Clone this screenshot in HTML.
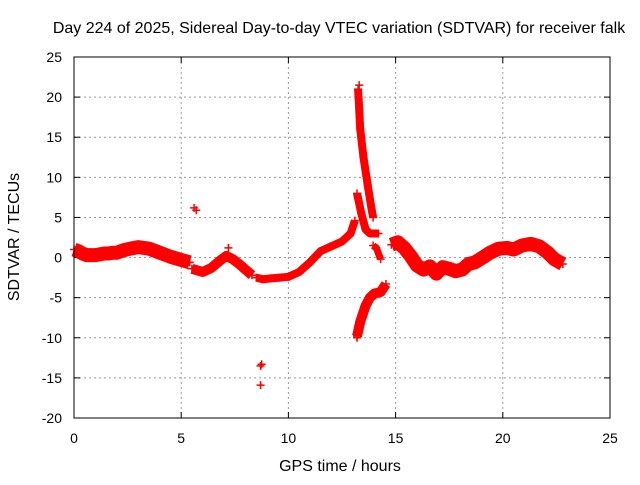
<!DOCTYPE html>
<html><head><meta charset="utf-8"><style>
body{margin:0;background:#fff}
svg{font-family:"Liberation Sans",sans-serif;font-size:14px}
</style></head><body>
<svg id="c" width="640" height="480">
<text x="339" y="33" text-anchor="middle" style="font-size:16px">Day 224 of 2025, Sidereal Day-to-day VTEC variation (SDTVAR) for receiver falk</text>
<text x="340" y="471" text-anchor="middle" style="font-size:16px">GPS time / hours</text>
<text transform="translate(19,237) rotate(-90)" text-anchor="middle" style="font-size:16px">SDTVAR / TECUs</text>
<g id="grid"></g><g id="marks"></g>
<rect x="74" y="57" width="536" height="361" fill="none" stroke="#000"/>
</svg>
<script>
const xTicks=[0,5,10,15,20,25];
const yTicks=[-20,-15,-10,-5,0,5,10,15,20,25];
// segments of the measured series: [hour, TECU]
const segMain=[[0,1],[0.2,0.8],[0.4,0.5],[0.6,0.3],[0.8,0.3],[1,0.3],[1.2,0.4],[1.4,0.5],[1.6,0.5],[1.8,0.6],[2.0,0.6],[2.3,0.9],[2.6,1.1],[3.0,1.3],[3.5,1.1],[4,0.6],[4.5,0.1],[5,-0.3],[5.4,-0.6]];
const segB=[[5.5,-1.4],[6,-1.8],[6.4,-1.3],[6.8,-0.4],[7.1,0.2],[7.4,-0.2],[7.7,-0.8],[8,-1.5],[8.3,-2.2]];
const segC=[[8.5,-2.5],[8.8,-2.7],[9.2,-2.6],[9.6,-2.5],[10,-2.4],[10.5,-1.8],[11,-0.6],[11.5,0.8],[12,1.4],[12.5,2],[12.9,3],[13.1,4.6]];
const segSpike=[[13.25,21],[13.35,16],[13.5,12.5],[13.7,9],[13.85,6.5],[13.95,5]];
const segD=[[13.2,8],[13.4,5.5],[13.6,3.5],[13.8,3],[14.1,3],[14.2,3]];
const segE=[[13.95,1.5],[14.1,1.2],[14.3,-0.2]];
const segLow=[[13.2,-9.8],[13.35,-8],[13.6,-6],[13.8,-5],[14,-4.5],[14.3,-4.3],[14.55,-3.3]];
const segF=[[14.8,1.6],[15.1,1.9],[15.4,1.2],[15.7,0.2],[16,-1],[16.3,-1.5],[16.6,-1.1],[16.9,-2],[17.2,-1.2],[17.5,-1.4],[17.8,-1.7],[18.1,-1.5],[18.4,-0.8],[18.7,-0.6],[19,-0.1],[19.4,0.6],[19.8,1.1],[20.2,1.2],[20.5,1.0],[20.9,1.5],[21.3,1.7],[21.7,1.4],[22.1,0.6],[22.4,-0.2],[22.8,-0.8]];
const isolated=[[5.6,6.2],[5.7,5.9],[7.2,1.2],[8.7,-13.5],[8.75,-13.3],[8.7,-15.9],[13.3,21.5],[13.2,-10]];
const segs=[segMain,segB,segC,segSpike,segD,segE,segLow,segF];
const widths=[14,10,8,8,8,7,10,14];
const X=v=>74+v*536/25, Y=v=>418-(v+20)*361/45;
const ns="http://www.w3.org/2000/svg";
const g=document.getElementById('grid'), m=document.getElementById('marks');
function mk(t,a,p){const e=document.createElementNS(ns,t);for(const k in a)e.setAttribute(k,a[k]);p.appendChild(e);return e;}
xTicks.forEach(t=>{const x=X(t);
 const l=mk('line',{x1:x,x2:x,y1:57,y2:418,stroke:'#999','stroke-dasharray':'2,3'},g);
 
 
 mk('line',{x1:x,x2:x,y1:418,y2:412,stroke:'#000'},g);mk('line',{x1:x,x2:x,y1:57,y2:63,stroke:'#000'},g);
 const tx=mk('text',{x:x,y:443,'text-anchor':'middle'},g);tx.textContent=t;
 
 });
yTicks.forEach(t=>{const y=Y(t);
 const l=mk('line',{x1:74,x2:610,y1:y,y2:y,stroke:'#999','stroke-dasharray':'2,3'},g);
 
 
 mk('line',{x1:74,x2:80,y1:y,y2:y,stroke:'#000'},g);mk('line',{x1:610,x2:604,y1:y,y2:y,stroke:'#000'},g);
 const tx=mk('text',{x:62,y:y+5,'text-anchor':'end'},g);tx.textContent=t;
 
 });
segs.forEach((s,i)=>{
 const p=mk('polyline',{points:s.map(d=>X(d[0])+','+Y(d[1])).join(' '),fill:'none',stroke:'#f00','stroke-width':widths[i],'stroke-linejoin':'round','stroke-linecap':'butt'},m);
 
 
 s.forEach(d=>{const pt=mk('path',{d:`M${X(d[0])-4},${Y(d[1])}h8M${X(d[0])},${Y(d[1])-4}v8`,stroke:'#f00','stroke-width':1.5},m);
  
  });
});
isolated.forEach(d=>{const pt=mk('path',{d:`M${X(d[0])-4},${Y(d[1])}h8M${X(d[0])},${Y(d[1])-4}v8`,stroke:'#f00','stroke-width':1.5},m);
 
 });
</script>
</body></html>
